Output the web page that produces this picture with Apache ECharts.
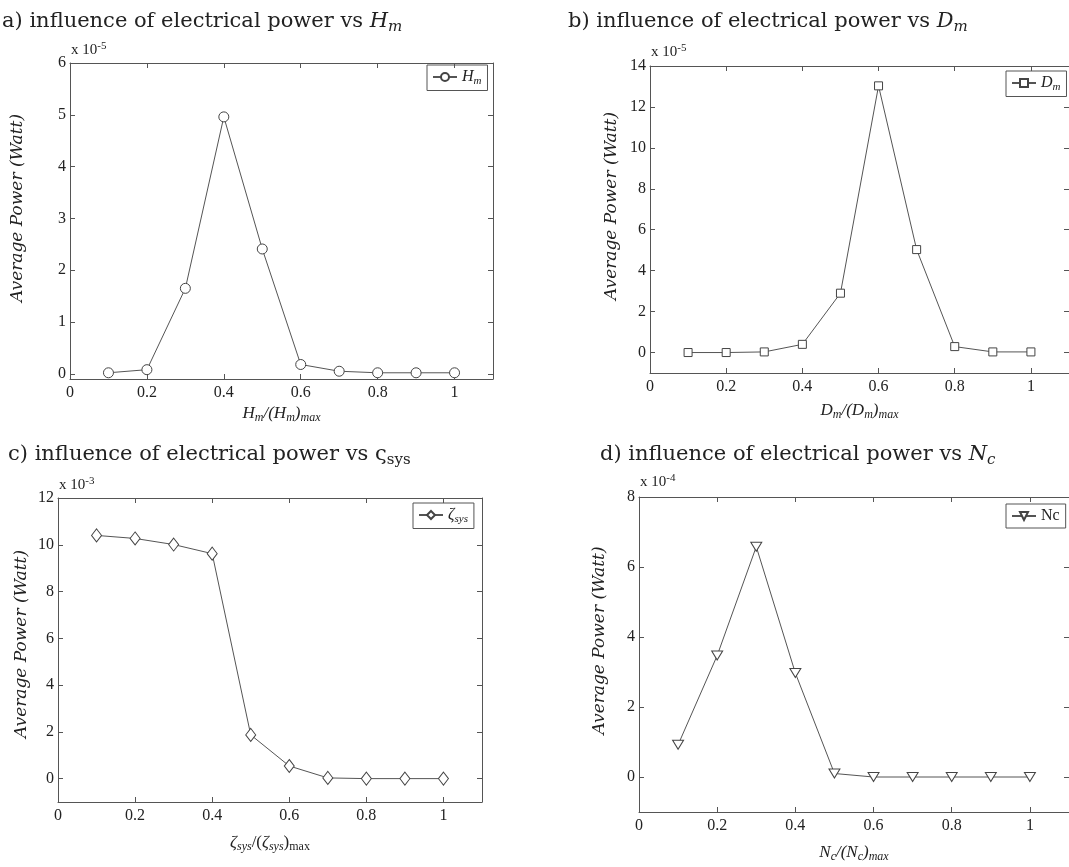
<!DOCTYPE html>
<html>
<head>
<meta charset="utf-8">
<title>influence of electrical power</title>
<script src="https://cdn.jsdelivr.net/npm/echarts@6/dist/echarts.min.js"></script>
<style>
  html, body { margin: 0; padding: 0; background: #fff; }
  #chart { width: 1069px; height: 867px; }
</style>
</head>
<body>
<div id="chart"></div>
<script>
// normalised parameter value (same for all four panels)
var xValues = [0.1, 0.2, 0.3, 0.4, 0.5, 0.6, 0.7, 0.8, 0.9, 1.0];

// average power, in units of the axis multiplier
var powerHm = [0.02, 0.08, 1.65, 4.96, 2.41, 0.18, 0.05, 0.02, 0.02, 0.02];    // x 10^-5
var powerDm = [0, 0, 0.03, 0.4, 2.9, 13.03, 5.03, 0.29, 0.03, 0.03];           // x 10^-5
var powerZeta = [10.4, 10.27, 10.01, 9.62, 1.87, 0.54, 0.03, 0, 0, 0];         // x 10^-3
var powerNc = [0.92, 3.47, 6.58, 2.97, 0.1, 0, 0, 0, 0, 0];                    // x 10^-4

var xTicks = [0, 0.2, 0.4, 0.6, 0.8, 1];
var yTicksHm = [0, 1, 2, 3, 4, 5, 6];
var yTicksDm = [0, 2, 4, 6, 8, 10, 12, 14];
var yTicksZeta = [0, 2, 4, 6, 8, 10, 12];
var yTicksNc = [0, 2, 4, 6, 8];

var FONT = 'Liberation Serif';
var TITLE_FONT = 'DejaVu Serif';
var INK = '#222';
var LINE = '#555';

function richSet(size, family) {
    var f = family || FONT;
    var s = Math.round(size * 0.7);
    var drop = Math.round(size * 0.5);
    var base = { fontFamily: f, fontWeight: 'normal', color: INK };
    return {
        n: Object.assign({ fontSize: size }, base),
        i: Object.assign({ fontSize: size, fontStyle: 'italic' }, base),
        si: Object.assign({ fontSize: s, fontStyle: 'italic', padding: [drop, 0, 0, 0] }, base),
        sn: Object.assign({ fontSize: s, padding: [drop, 0, 0, 0] }, base),
        sup: Object.assign({ fontSize: s, padding: [0, 0, drop, 0] }, base)
    };
}

// layout and text of each panel
var panels = [
    {
        data: powerHm, yMin: -0.1, yMax: 6, yTicks: yTicksHm,
        grid: { left: 70, top: 63, width: 423, height: 316 },
        title: '{n|a) influence of electrical power vs }{i|H}{si|m}', titlePos: [2, 9],
        mult: '{n|x 10}{sup|-5}', multPos: [71, 41],
        xName: '{i|H}{si|m}{i|/(H}{si|m}{i|)}{si|max}', xGap: 24,
        yGap: 44, yShift: 26,
        legend: '{i|H}{si|m}', legendPos: [427, 65],
        symbol: 'circle', symbolSize: 10, symbolRotate: 0
    },
    {
        data: powerDm, yMin: -1, yMax: 14, yTicks: yTicksDm,
        grid: { left: 650, top: 66, width: 423, height: 307 },
        title: '{n|b) influence of electrical power vs }{i|D}{si|m}', titlePos: [568, 9],
        mult: '{n|x 10}{sup|-5}', multPos: [651, 43],
        xName: '{i|D}{si|m}{i|/(D}{si|m}{i|)}{si|max}', xGap: 27,
        yGap: 30, yShift: 27,
        legend: '{i|D}{si|m}', legendPos: [1006, 71],
        symbol: 'rect', symbolSize: 8, symbolRotate: 0
    },
    {
        data: powerZeta, yMin: -1, yMax: 12, yTicks: yTicksZeta,
        grid: { left: 58, top: 498, width: 424, height: 304 },
        title: '{n|c) influence of electrical power vs ς}{sn|sys}', titlePos: [8, 442],
        mult: '{n|x 10}{sup|-3}', multPos: [59, 476],
        xName: '{i|ζ}{si|sys}{n|/(}{i|ζ}{si|sys}{n|)}{sn|max}', xGap: 30,
        yGap: 28, yShift: 12,
        legend: '{i|ζ}{si|sys}', legendPos: [413, 503],
        symbol: 'diamond', symbolSize: [10, 13], symbolRotate: 0
    },
    {
        data: powerNc, yMin: -1, yMax: 8, yTicks: yTicksNc,
        grid: { left: 639, top: 497, width: 430, height: 315 },
        title: '{n|d) influence of electrical power vs }{i|N}{si|c}', titlePos: [600, 442],
        mult: '{n|x 10}{sup|-4}', multPos: [640, 473],
        xName: '{i|N}{si|c}{i|/(N}{si|c}{i|)}{si|max}', xGap: 30,
        yGap: 31, yShift: 28,
        legend: '{n|Nc}', legendPos: [1006, 504],
        symbol: 'triangle', symbolSize: [11, 9], symbolRotate: 180
    }
];

var chart = echarts.init(document.getElementById('chart'));

var option = {
    backgroundColor: '#fff',
    animation: false,
    title: [],
    legend: [],
    grid: [],
    xAxis: [],
    yAxis: [],
    series: []
};

var axisLine = { show: true, onZero: false, lineStyle: { color: LINE, width: 1 } };
var tickLabel = { fontFamily: FONT, fontSize: 16, color: INK };

panels.forEach(function (p, k) {
    option.grid.push(p.grid);

    option.title.push({
        text: p.title, left: p.titlePos[0], top: p.titlePos[1], padding: 0,
        textStyle: { fontWeight: 'normal', rich: richSet(21, TITLE_FONT) }
    });
    option.title.push({
        text: p.mult, left: p.multPos[0], top: p.multPos[1], padding: 0,
        textStyle: { fontWeight: 'normal', rich: richSet(15) }
    });

    // bottom and top x axes
    option.xAxis.push({
        type: 'value', gridIndex: k, min: 0, max: 1.1, position: 'bottom',
        name: p.xName, nameLocation: 'middle', nameGap: p.xGap,
        nameTextStyle: { rich: richSet(17) },
        axisLine: axisLine,
        axisTick: { inside: true, length: 5, lineStyle: { color: LINE }, customValues: xTicks },
        axisLabel: Object.assign({ margin: 6, customValues: xTicks }, tickLabel),
        splitLine: { show: false }
    });
    option.xAxis.push({
        type: 'value', gridIndex: k, min: 0, max: 1.1, position: 'top',
        axisLine: axisLine,
        axisTick: { inside: true, length: 5, lineStyle: { color: LINE }, customValues: xTicks },
        axisLabel: { show: false },
        splitLine: { show: false }
    });

    // left and right y axes
    option.yAxis.push({
        type: 'value', gridIndex: k, min: p.yMin, max: p.yMax, position: 'left',
        name: 'Average Power (Watt)', nameLocation: 'middle', nameGap: p.yGap,
        nameTextStyle: { fontFamily: 'DejaVu Serif', fontSize: 17, fontStyle: 'italic', color: INK, padding: [0, 0, 0, p.yShift] },
        axisLine: axisLine,
        axisTick: { inside: true, length: 5, lineStyle: { color: LINE }, customValues: p.yTicks },
        axisLabel: Object.assign({ margin: 4, customValues: p.yTicks }, tickLabel),
        splitLine: { show: false }
    });
    option.yAxis.push({
        type: 'value', gridIndex: k, min: p.yMin, max: p.yMax, position: 'right',
        axisLine: axisLine,
        axisTick: { inside: true, length: 5, lineStyle: { color: LINE }, customValues: p.yTicks },
        axisLabel: { show: false },
        splitLine: { show: false }
    });

    var name = 'series' + k;
    option.legend.push({
        data: [name], left: p.legendPos[0], top: p.legendPos[1],
        orient: 'vertical', selectedMode: false,
        borderColor: LINE, borderWidth: 1, borderRadius: 0,
        padding: [4, 6, 4, 5], itemWidth: 24, itemHeight: 10, itemGap: 0,
        formatter: function () { return p.legend; },
        textStyle: { rich: richSet(16) }
    });

    option.series.push({
        type: 'line', name: name,
        xAxisIndex: 2 * k, yAxisIndex: 2 * k,
        data: xValues.map(function (x, i) { return [x, p.data[i]]; }),
        symbol: p.symbol, symbolSize: p.symbolSize, symbolRotate: p.symbolRotate,
        showAllSymbol: true,
        lineStyle: { color: LINE, width: 1 },
        itemStyle: { color: '#fff', borderColor: '#444', borderWidth: 1 }
    });
});

chart.setOption(option);
</script>
</body>
</html>
